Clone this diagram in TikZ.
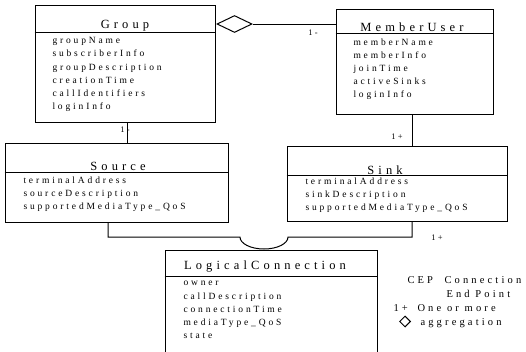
\documentclass[tikz,border=0pt]{standalone}
\usepackage{fontspec}
\setmainfont{Liberation Serif}
\newfontfamily\attrfont[LetterSpace=30]{Liberation Serif}
\newfontfamily\titlefont[LetterSpace=33]{Liberation Serif}
\usetikzlibrary{shapes.geometric}

\begin{document}
\begin{tikzpicture}[x=1pt,y=-1pt,line width=1pt,
  classbox/.style={draw,rectangle,inner sep=0pt},
  classtitle/.style={font=\titlefont\fontsize{12.5}{14}\selectfont,inner sep=0pt,anchor=base},
  classattrs/.style={font=\attrfont\fontsize{9.5}{13.2}\selectfont,align=left,
    anchor=north west,inner sep=0pt,execute at begin node=\strut},
  mult/.style={font=\fontsize{8.5}{10}\selectfont,inner sep=0pt},
  legendtext/.style={font=\attrfont\fontsize{10.5}{14}\selectfont,inner sep=0pt,anchor=base west}]
 \clip (0,0) rectangle (526,351);
 % Group
 \node[classbox,minimum width=180pt,minimum height=117pt] (group) at (125,63.5) {};
 \node[classtitle] (grouptitle) at (125,28) {Group};
 \draw (group.west |- 0,32) -- (group.east |- 0,32);
 \node[classattrs] (groupattrs) at (52,37)
   {groupName\\subscriberInfo\\groupDescription\\creationTime\\callIdentifiers\\loginInfo};
 % MemberUser
 \node[classbox,minimum width=157pt,minimum height=105pt] (member) at (414.5,61.5) {};
 \node[classtitle] (membertitle) at (412,31) {MemberUser};
 \draw (member.west |- 0,33) -- (member.east |- 0,33);
 \node[classattrs] (memberattrs) at (353,38)
   {memberName\\memberInfo\\joinTime\\activeSinks\\loginInfo};
 % Source
 \node[classbox,minimum width=223pt,minimum height=79pt] (source) at (116.5,182.5) {};
 \node[classtitle] (sourcetitle) at (118,170) {Source};
 \draw (source.west |- 0,172) -- (source.east |- 0,172);
 \node[classattrs] (sourceattrs) at (23,176)
   {terminalAddress\\sourceDescription\\supportedMediaType\_QoS};
 % Sink
 \node[classbox,minimum width=220pt,minimum height=75pt] (sink) at (397,183.5) {};
 \node[classtitle] (sinktitle) at (385,174.5) {Sink};
 \draw (sink.west |- 0,175) -- (sink.east |- 0,175);
 \node[classattrs] (sinkattrs) at (305,177)
   {terminalAddress\\sinkDescription\\supportedMediaType\_QoS};
 % LogicalConnection
 \node[classbox,minimum width=212pt,minimum height=110pt] (logconn) at (271,305) {};
 \node[classtitle] (logconntitle) at (265,269) {LogicalConnection};
 \draw (logconn.west |- 0,276) -- (logconn.east |- 0,276);
 \node[classattrs] (logconnattrs) at (183,281)
   {owner\\callDescription\\connectionTime\\mediaType\_QoS\\state};
 % aggregation
 \node[draw,diamond,minimum width=35pt,minimum height=17pt,inner sep=0pt] (agg) at (234.5,24) {};
 \draw (agg.east) -- (agg.east -| member.west);
 \node[mult] (m1) at (313,33) {1 -};
 % associations
 \draw ([xshift=2pt]group.south) -- ([xshift=2pt]group.south |- source.north);
 \node[mult] (m2) at (125,130) {1 -};
 \draw ([xshift=-2.5pt]member.south) -- ([xshift=-2.5pt]member.south |- sink.north);
 \node[mult] (m3) at (397,137) {1 +};
 \coordinate (cepl) at (240,237);
 \draw ([xshift=-8.5pt]source.south) |- (cepl)
   arc[start angle=180,end angle=0,x radius=24,y radius=12]
   -| ([xshift=15pt]sink.south);
 \node[mult] (m4) at (437,238) {1 +};
 % legend
 \node[legendtext] (cep) at (407,283) {CEP};
 \node[legendtext] (cepname) at (444,283) {Connection};
 \node[legendtext] (cepname2) at (446,297) {End Point};
 \node[legendtext] (onep) at (393,311) {1+};
 \node[legendtext] (onepname) at (417,311) {One or more};
 \node[draw,diamond,minimum width=11pt,minimum height=11pt,inner sep=0pt] (legagg) at (405,321.5) {};
 \node[legendtext] (aggname) at (420,325) {aggregation};
\end{tikzpicture}
\end{document}
